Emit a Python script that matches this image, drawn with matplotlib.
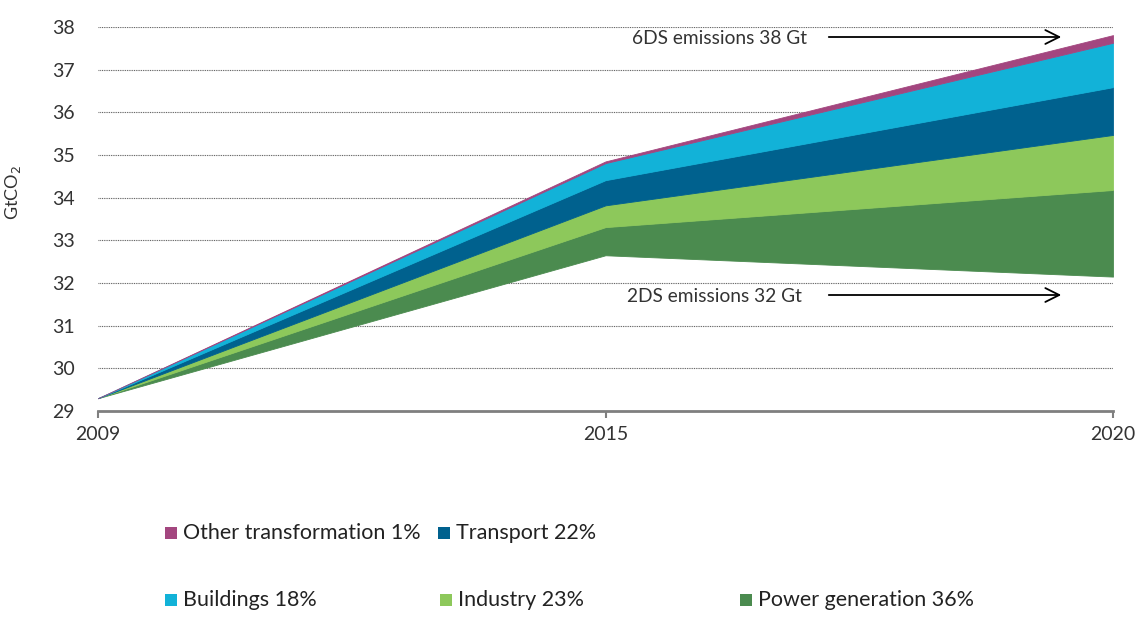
import matplotlib
matplotlib.use("Agg")
import matplotlib.pyplot as plt
from matplotlib.patches import Rectangle, FancyArrowPatch
import numpy as np

years = ["2009", "2015", "2020"]
baseline_2ds = [29.3, 32.65, 32.15]
power = [0.0, 0.66, 2.03]
industry = [0.0, 0.51, 1.29]
transport = [0.0, 0.59, 1.12]
buildings = [0.0, 0.40, 1.04]
other = [0.0, 0.04, 0.18]

series_labels = ["Power generation 36%", "Industry 23%", "Transport 22%",
                 "Buildings 18%", "Other transformation 1%"]
series_colors = ["#4b8b4f", "#8dc85b", "#00618e", "#12b2d8", "#a3467f"]

plt.rcParams['font.family'] = ['Lato', 'DejaVu Sans']

fig = plt.figure(figsize=(11.38, 6.22), dpi=100)
W, H = 1138, 622
ax = fig.add_axes([98 / W, 1 - 411 / H, (1113 - 98) / W, (411 - 27) / H])

x = np.arange(len(years))
layers = [power, industry, transport, buildings, other]
bottom = np.array(baseline_2ds, dtype=float)
for vals, col in zip(layers, series_colors):
    top = bottom + np.array(vals)
    ax.fill_between(x, bottom, top, facecolor=col, edgecolor=col, linewidth=0.6, zorder=3)
    bottom = top

ax.set_xlim(0, 2)
ax.set_ylim(29, 38)
ax.set_yticks(range(29, 39))
ax.set_xticks(x)
ax.set_xticklabels(years)
for yv in range(30, 39):
    ax.axhline(yv, color="#555555", linestyle=(0, (0.8, 0.8)), linewidth=0.8, zorder=1)

for s in ["top", "right", "left"]:
    ax.spines[s].set_visible(False)
ax.spines["bottom"].set_color("#7f7f7f")
ax.spines["bottom"].set_linewidth(2)
ax.tick_params(axis="y", length=0, pad=17, labelsize=14, labelcolor="#333333")
ax.tick_params(axis="x", length=5, width=1.5, color="#7f7f7f", pad=6,
               labelsize=14, labelcolor="#333333")
ax.set_ylabel("GtCO$_2$", fontsize=13, color="#333333")
ax.yaxis.set_label_coords(-75 / 1015, 0.57)

def px(xp, yp):
    return (xp / W, 1 - yp / H)

# annotations
fig.text(*px(632, 39), "6DS emissions 38 Gt", fontsize=13.8, color="#333333", va="center", ha="left")
fig.text(*px(627, 296), "2DS emissions 32 Gt", fontsize=13.8, color="#333333", va="center", ha="left")
for y0 in (37, 295):
    fig.add_artist(FancyArrowPatch(px(826, y0), px(1064, y0), transform=fig.transFigure,
                   arrowstyle="->,head_length=10,head_width=5", color="black", linewidth=1.3,
                   mutation_scale=1))

# legend
leg_items = [("Other transformation 1%", series_colors[4], 165, 533),
             ("Transport 22%", series_colors[2], 438, 533),
             ("Buildings 18%", series_colors[3], 165, 600),
             ("Industry 23%", series_colors[1], 440, 600),
             ("Power generation 36%", series_colors[0], 740, 600)]
for lab, col, xp, yp in leg_items:
    fig.add_artist(Rectangle((xp / W, 1 - (yp + 6) / H), 12 / W, 12 / H,
                             transform=fig.transFigure, facecolor=col, edgecolor="none"))
    fig.text((xp + 18) / W, 1 - yp / H, lab, fontsize=15.5, color="#222222", va="center", ha="left")

fig.savefig("out.png", dpi=100)
